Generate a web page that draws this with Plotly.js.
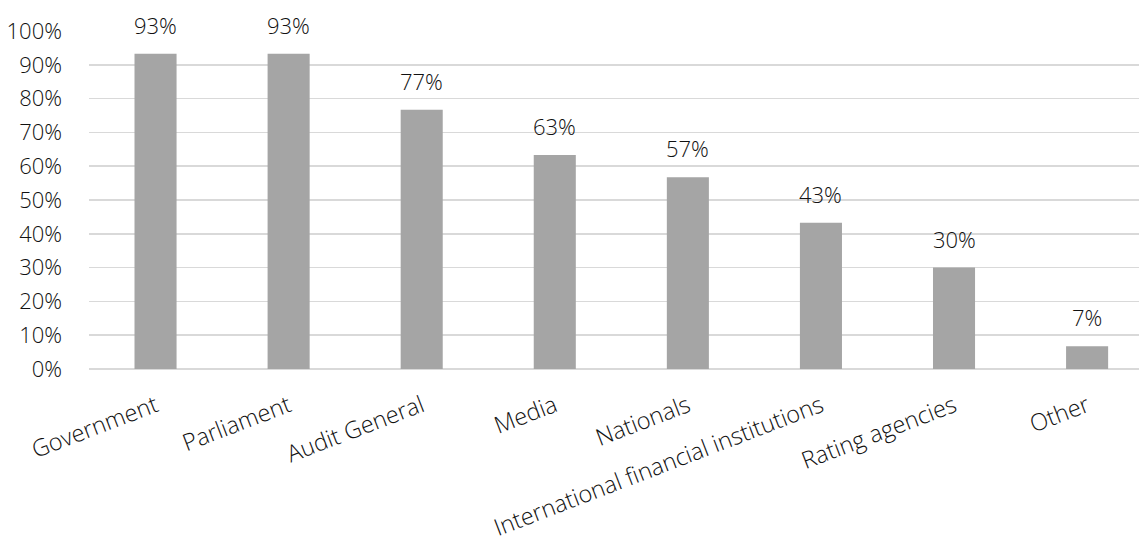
<!DOCTYPE html>
<html>
<head>
<meta charset="utf-8">
<script src="https://cdn.plot.ly/plotly-3.0.1.min.js"></script>
<style>html,body{margin:0;padding:0;background:#fff;}#chart{width:1139px;height:542px;}</style>
</head>
<body>
<div id="chart"></div>
<script>
const categories = ["Government", "Parliament", "Audit General", "Media", "Nationals", "International financial institutions", "Rating agencies", "Other"];
const values = [0.933, 0.933, 0.767, 0.633, 0.567, 0.433, 0.30, 0.067];
const valueLabels = ["93%", "93%", "77%", "63%", "57%", "43%", "30%", "7%"];
const yTicks = [0, 0.1, 0.2, 0.3, 0.4, 0.5, 0.6, 0.7, 0.8, 0.9, 1.0];
const yTickLabels = ["0%", "10%", "20%", "30%", "40%", "50%", "60%", "70%", "80%", "90%", "100%"];

const fontFam = '"Open Sans", "Segoe UI", sans-serif';
const textColor = '#111111';

const trace = {
  type: 'bar',
  x: categories,
  y: values,
  width: 0.316,
  marker: {color: '#a5a5a5'},
  hoverinfo: 'none'
};

const annotations = categories.map((c, i) => ({
  x: c, y: values[i], xref: 'x', yref: 'y',
  text: valueLabels[i], showarrow: false,
  yanchor: 'bottom', yshift: 12,
  font: {family: fontFam, size: 22, weight: 300, color: textColor}
}));

const layout = {
  width: 1139, height: 542,
  margin: {l: 89, r: 0, t: 31, b: 173},
  paper_bgcolor: '#ffffff', plot_bgcolor: '#ffffff',
  showlegend: false,
  xaxis: {
    type: 'category',
    range: [-0.5, 7.39],
    tickangle: -21,
    tickfont: {family: fontFam, size: 23.5, weight: 300, color: textColor},
    ticklabelstandoff: 18,
    showgrid: false, ticks: '', showline: false, zeroline: false,
    fixedrange: true
  },
  yaxis: {
    range: [0, 1.0],
    tickvals: yTicks, ticktext: yTickLabels,
    tickfont: {family: fontFam, size: 22, weight: 300, color: textColor},
    showgrid: true, gridcolor: '#d9d9d9', gridwidth: 1.5,
    zeroline: true, zerolinecolor: '#d9d9d9', zerolinewidth: 1.5,
    ticks: '', ticklabelstandoff: 26, showline: false,
    fixedrange: true
  },
  annotations: annotations
};

Plotly.newPlot('chart', [trace], layout, {displayModeBar: false, staticPlot: true});
</script>
</body>
</html>
